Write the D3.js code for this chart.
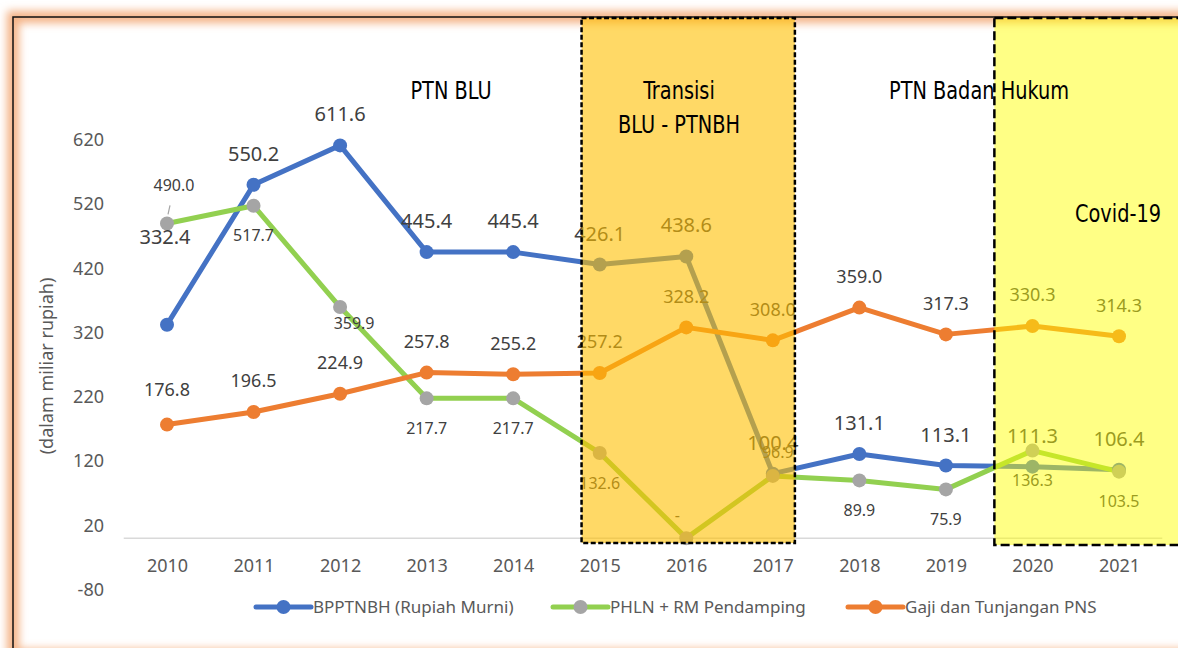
<!DOCTYPE html>
<html>
<head>
<meta charset="utf-8">
<script src="https://cdn.jsdelivr.net/npm/d3@7"></script>
<style>
  body { margin: 0; background: #fff; }
  svg { display: block; }
  .num { font-family: "Noto Sans", "Open Sans", sans-serif; }
  .note { font-family: "DejaVu Sans Condensed", "Liberation Sans Narrow", sans-serif; fill: #000; }
</style>
</head>
<body>
<div id="chart"></div>
<script>
// values
let years = ['2010','2011','2012','2013','2014','2015','2016','2017','2018','2019','2020','2021'];
let bpptnbh = [332.4, 550.2, 611.6, 445.4, 445.4, 426.1, 438.6, 100.4, 131.1, 113.1, 111.3, 106.4];
let phln = [490.0, 517.7, 359.9, 217.7, 217.7, 132.6, 0, 96.9, 89.9, 75.9, 136.3, 103.5];
let gaji = [176.8, 196.5, 224.9, 257.8, 255.2, 257.2, 328.2, 308.0, 359.0, 317.3, 330.3, 314.3];
let yTicks = [-80, 20, 120, 220, 320, 420, 520, 620];
let seriesNames = ['BPPTNBH (Rupiah Murni)', 'PHLN + RM Pendamping', 'Gaji dan Tunjangan PNS'];

let width = 1178;
let height = 648;

let svg = d3.select('#chart').append('svg')
            .attr('width', width)
            .attr('height', height);

let x = d3.scalePoint()
          .domain(years)
          .range([167, 1119]);
let step = x.step();

let y = d3.scaleLinear()
          .domain([-80, 620])
          .range([589.5, 140]);

// outer frame with soft orange glow
let defs = svg.append('defs');
defs.append('filter').attr('id', 'glow')
    .attr('x', '-5%').attr('y', '-5%').attr('width', '110%').attr('height', '110%')
    .append('feGaussianBlur').attr('stdDeviation', 4);

svg.append('rect')
    .attr('x', 13).attr('y', 17).attr('width', 1220).attr('height', 638)
    .attr('fill', 'none')
    .attr('stroke', '#F4B183')
    .attr('stroke-width', 12)
    .attr('filter', 'url(#glow)');
svg.append('rect')
    .attr('x', 13).attr('y', 17).attr('width', 1220).attr('height', 638)
    .attr('fill', 'none')
    .attr('stroke', '#111')
    .attr('stroke-width', 1.5);

// axes
svg.append('line')
    .attr('x1', x(years[0]) - step/2).attr('x2', x(years[years.length-1]) + step/2)
    .attr('y1', y(0)).attr('y2', y(0))
    .attr('stroke', '#D9D9D9').attr('stroke-width', 1.5);

let yAxis = svg.append('g')
    .attr('transform', 'translate(104,0)')
    .call(d3.axisLeft(y).tickValues(yTicks).tickSize(0).tickPadding(0).tickFormat(d => String(d)));
yAxis.select('.domain').remove();

let xAxis = svg.append('g')
    .attr('transform', `translate(0,${y(0)})`)
    .call(d3.axisBottom(x).tickSize(0).tickPadding(21));
xAxis.select('.domain').remove();

svg.selectAll('.tick text')
    .attr('class', 'num')
    .attr('font-size', 18)
    .attr('fill', '#595959');

svg.append('text')
    .attr('class', 'num')
    .attr('transform', 'translate(53,366) rotate(-90)')
    .attr('text-anchor', 'middle')
    .attr('font-size', 18)
    .attr('fill', '#595959')
    .text('(dalam miliar rupiah)');

// series
let series = [
  {name: seriesNames[0], values: bpptnbh, line: '#4472C4', dot: '#4472C4', size: 20, dy: -31,
   adjust: {0: [-2, -88]}},
  {name: seriesNames[1], values: phln, line: '#92D050', dot: '#A5A5A5', size: 16, dy: 30,
   adjust: {0: [7, -38], 2: [14, 16], 6: [-9, -23], 7: [5, -24]}},
  {name: seriesNames[2], values: gaji, line: '#ED7D31', dot: '#ED7D31', size: 18, dy: -31,
   adjust: {0: [0, -35]}}
];

let fmt = d3.format('.1f');
let line = d3.line()
             .x((d, i) => x(years[i]))
             .y(d => y(d));

series.forEach(s => {
  svg.append('path')
      .datum(s.values)
      .attr('d', line)
      .attr('fill', 'none')
      .attr('stroke', s.line)
      .attr('stroke-width', 5)
      .attr('stroke-linejoin', 'round');
});

series.forEach(s => {
  svg.append('g').selectAll('circle')
      .data(s.values)
      .join('circle')
        .attr('cx', (d, i) => x(years[i]))
        .attr('cy', d => y(d))
        .attr('r', 7)
        .attr('fill', s.dot);
});

series.forEach(s => {
  svg.append('g').selectAll('text')
      .data(s.values)
      .join('text')
        .attr('class', 'num')
        .attr('x', (d, i) => x(years[i]) + (s.adjust[i] ? s.adjust[i][0] : 0))
        .attr('y', (d, i) => y(d) + (s.adjust[i] ? s.adjust[i][1] : s.dy))
        .attr('dy', '0.35em')
        .attr('text-anchor', 'middle')
        .attr('font-size', s.size)
        .attr('fill', '#404040')
        .text(d => d === 0 ? '-' : fmt(d));
});

// leader line for the 2010 PHLN label
svg.append('line')
    .attr('x1', x('2010') + 3).attr('y1', y(phln[0]) - 18)
    .attr('x2', x('2010') + 1).attr('y2', y(phln[0]) - 9)
    .attr('stroke', '#A5A5A5').attr('stroke-width', 1.2);

// shaded periods
let boxes = [
  {x0: x('2015') - step*0.21, x1: x('2017') + step*0.255, bottom: 543, fill: '#FFC000', op: 0.6, dash: '5,2.5'},
  {x0: x('2019') + step*0.56, x1: 1200, bottom: 545, fill: '#FFFF00', op: 0.48, dash: '9,4'}
];

boxes.forEach(b => {
  svg.append('rect')
      .attr('x', b.x0).attr('y', 18)
      .attr('width', b.x1 - b.x0).attr('height', b.bottom - 18)
      .attr('fill', b.fill).attr('fill-opacity', b.op);
});

let notes = [
  {text: 'PTN BLU', x: 451, y: 99},
  {text: 'Transisi', x: 679, y: 99},
  {text: 'BLU - PTNBH', x: 679, y: 133},
  {text: 'PTN Badan Hukum', x: 979, y: 99},
  {text: 'Covid-19', x: 1118, y: 222}
];
// narrow the condensed face a little more to match the original lettering
svg.append('g').selectAll('text')
    .data(notes)
    .join('text')
      .attr('class', 'note')
      .attr('transform', d => `translate(${d.x},${d.y}) scale(0.86,1)`)
      .attr('text-anchor', 'middle')
      .attr('font-size', 25)
      .text(d => d.text);

boxes.forEach(b => {
  svg.append('rect')
      .attr('x', b.x0).attr('y', 18)
      .attr('width', b.x1 - b.x0).attr('height', b.bottom - 18)
      .attr('fill', 'none')
      .attr('stroke', '#000')
      .attr('stroke-width', 2.5)
      .attr('stroke-dasharray', b.dash);
});

// legend
let legendX = [256, 553, 848];
let legend = svg.append('g').selectAll('g')
    .data(series)
    .join('g')
      .attr('transform', (d, i) => `translate(${legendX[i]},607)`);
legend.append('line')
    .attr('x1', 0).attr('x2', 55)
    .attr('stroke', d => d.line).attr('stroke-width', 5).attr('stroke-linecap', 'round');
legend.append('circle')
    .attr('cx', 27.5).attr('r', 7)
    .attr('fill', d => d.dot);
legend.append('text')
    .attr('class', 'num')
    .attr('x', 57).attr('dy', '0.35em')
    .attr('font-size', 17)
    .attr('fill', '#595959')
    .text(d => d.name);
</script>
</body>
</html>
